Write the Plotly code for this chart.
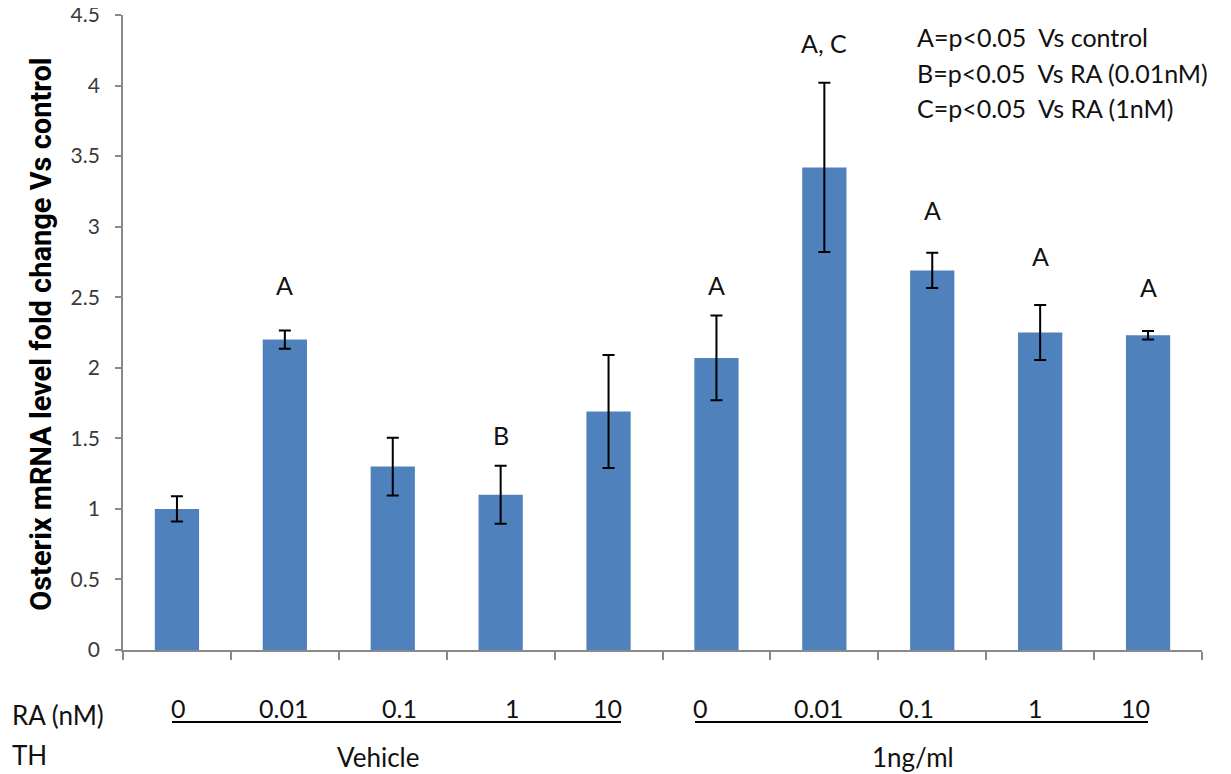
import plotly.graph_objects as go

# ---- data ----
ra_labels = ["0", "0.01", "0.1", "1", "10", "0", "0.01", "0.1", "1", "10"]
th_groups = ["Vehicle", "1ng/ml"]
fold_change = [1.00, 2.20, 1.30, 1.10, 1.69, 2.07, 3.42, 2.69, 2.25, 2.23]
error = [0.09, 0.065, 0.205, 0.205, 0.40, 0.30, 0.60, 0.125, 0.195, 0.03]
sig_letters = ["", "A", "", "B", "", "A", "A, C", "A", "A", "A"]
sig_letter_y = [None, 2.584, None, 1.527, None, 2.584, 4.305, 3.12, 2.79, 2.572]
legend_lines = ["A=p<0.05  Vs control", "B=p<0.05  Vs RA (0.01nM)", "C=p<0.05  Vs RA (1nM)"]
y_ticks = [0, 0.5, 1, 1.5, 2, 2.5, 3, 3.5, 4, 4.5]

x = list(range(len(fold_change)))
FONT = "Lato"
TXT = "#111111"
bar_color = "#4F81BD"

fig = go.Figure()
fig.add_trace(go.Bar(
    x=x, y=fold_change, width=0.41,
    marker=dict(color=bar_color, line=dict(width=0)),
    error_y=dict(type="data", array=error, visible=True, color="black", thickness=2, width=6),
    showlegend=False,
))

annotations = []
for xi, s, sy in zip(x, sig_letters, sig_letter_y):
    if s:
        annotations.append(dict(x=xi, y=sy, xref="x", yref="y", text=s, showarrow=False,
                                xanchor="center", yanchor="middle",
                                font=dict(family=FONT, size=25, color=TXT)))

# RA concentration labels below the axis
label_shift = [2, -1, 7, 12, -1, -16, -6, -16, -5, -13]
for xi, lab, sh in zip(x, ra_labels, label_shift):
    annotations.append(dict(x=xi, y=-0.0913, xref="x", yref="paper", text=lab, showarrow=False,
                            xshift=sh, xanchor="center", yanchor="middle",
                            font=dict(family=FONT, size=25, color=TXT)))

annotations.append(dict(x=-0.105, y=-0.1024, xref="paper", yref="paper", text="RA (nM)", showarrow=False,
                        xanchor="left", yanchor="middle", font=dict(family=FONT, size=26, color=TXT)))
annotations.append(dict(x=-0.105, y=-0.1654, xref="paper", yref="paper", text="TH", showarrow=False,
                        xanchor="left", yanchor="middle", font=dict(family=FONT, size=26, color=TXT)))
for gx, g in zip([0.2363, 0.7325], th_groups):
    annotations.append(dict(x=gx, y=-0.168, xref="paper", yref="paper", text=g, showarrow=False,
                            xanchor="center", yanchor="middle", font=dict(family=FONT, size=26, color=TXT)))

for i, line in enumerate(legend_lines):
    annotations.append(dict(x=0.734, y=[0.9658, 0.9082, 0.853][i], xref="paper", yref="paper", text=line,
                            showarrow=False, xanchor="left", yanchor="middle",
                            font=dict(family=FONT, size=25, color=TXT)))

# y-axis title
annotations.append(dict(x=-0.076, y=0.498, xref="paper", yref="paper",
                        text="<b>Osterix mRNA level fold change Vs control</b>", textangle=-90,
                        showarrow=False, xanchor="center", yanchor="middle",
                        font=dict(family="Roboto", size=29, color="black")))

shapes = [
    dict(type="line", xref="x", yref="paper", x0=-0.046, x1=4.115, y0=-0.1134, y1=-0.1134,
         line=dict(color="black", width=1.8)),
    dict(type="line", xref="x", yref="paper", x0=4.801, x1=9.0, y0=-0.1134, y1=-0.1134,
         line=dict(color="black", width=1.8)),
]

# the page adds an 8px body margin, so the margins are set to land the plot where the reference has it
fig.update_layout(
    width=1231, height=774,
    margin=dict(l=115, r=37, t=7, b=132, autoexpand=False),
    paper_bgcolor="white", plot_bgcolor="white",
    annotations=annotations, shapes=shapes,
    xaxis=dict(range=[-0.5, 9.5], tickvals=[i - 0.5 for i in range(11)], showticklabels=False,
               ticks="outside", ticklen=8, tickcolor="#898989", tickwidth=1.5, showline=True,
               linecolor="#898989", linewidth=1.8, showgrid=False, zeroline=False, automargin=False),
    yaxis=dict(range=[0, 4.5], tickvals=y_ticks, ticktext=[f"{t:g}" for t in y_ticks],
               ticks="outside", ticklen=6, tickcolor="#898989", tickwidth=1.5, showline=True,
               linecolor="#898989", linewidth=1.8, showgrid=False, zeroline=False, automargin=False,
               ticklabelstandoff=11, ticklabeloverflow="allow",
               tickfont=dict(family=FONT, size=21, color="#3a3a3a")),
)

fig.write_html("out.html")
